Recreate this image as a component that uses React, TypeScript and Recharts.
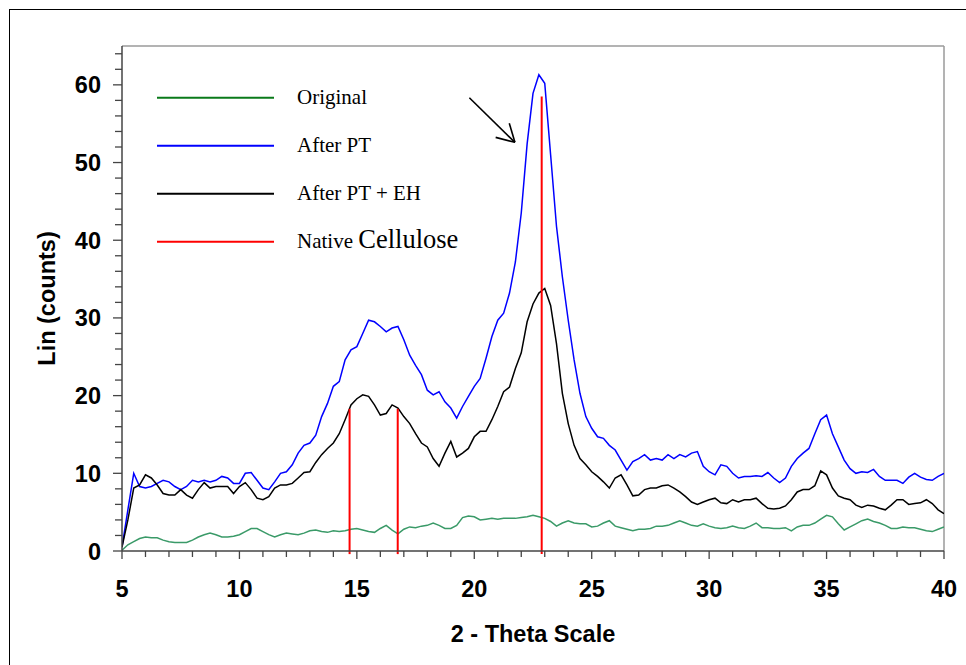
import React from 'react';
import { LineChart, Line, XAxis, YAxis, ReferenceLine, Legend } from 'recharts';

// 2-theta positions (degrees)
const twoTheta = [
  5, 5.25, 5.5, 5.75, 6, 6.25, 6.5, 6.75, 7, 7.25, 7.5, 7.75, 8, 8.25, 8.5, 8.75, 9, 9.25, 9.5, 9.75,
  10, 10.25, 10.5, 10.75, 11, 11.25, 11.5, 11.75, 12, 12.25, 12.5, 12.75, 13, 13.25, 13.5, 13.75, 14, 14.25, 14.5, 14.75,
  15, 15.25, 15.5, 15.75, 16, 16.25, 16.5, 16.75, 17, 17.25, 17.5, 17.75, 18, 18.25, 18.5, 18.75, 19, 19.25, 19.5, 19.75,
  20, 20.25, 20.5, 20.75, 21, 21.25, 21.5, 21.75, 22, 22.25, 22.5, 22.75, 23, 23.25, 23.5, 23.75, 24, 24.25, 24.5, 24.75,
  25, 25.25, 25.5, 25.75, 26, 26.25, 26.5, 26.75, 27, 27.25, 27.5, 27.75, 28, 28.25, 28.5, 28.75, 29, 29.25, 29.5, 29.75,
  30, 30.25, 30.5, 30.75, 31, 31.25, 31.5, 31.75, 32, 32.25, 32.5, 32.75, 33, 33.25, 33.5, 33.75, 34, 34.25, 34.5, 34.75,
  35, 35.25, 35.5, 35.75, 36, 36.25, 36.5, 36.75, 37, 37.25, 37.5, 37.75, 38, 38.25, 38.5, 38.75, 39, 39.25, 39.5, 39.75,
  40,
];

const original = [
  0.1, 0.8, 1.2, 1.6, 1.8, 1.7, 1.7, 1.4, 1.2, 1.1, 1.1, 1.1, 1.4, 1.8, 2.1, 2.3, 2.1, 1.8, 1.8, 1.9,
  2.1, 2.5, 2.9, 2.9, 2.5, 2.1, 1.8, 2.1, 2.3, 2.2, 2.1, 2.3, 2.6, 2.7, 2.5, 2.4, 2.6, 2.5, 2.6, 2.8,
  2.9, 2.7, 2.5, 2.4, 2.9, 3.3, 2.7, 2.2, 2.8, 3.1, 3.0, 3.2, 3.3, 3.6, 3.3, 2.9, 2.9, 3.3, 4.3, 4.5,
  4.4, 4.0, 4.1, 4.2, 4.1, 4.2, 4.2, 4.2, 4.3, 4.4, 4.6, 4.4, 4.2, 3.8, 3.2, 3.6, 3.9, 3.6, 3.5, 3.5,
  3.1, 3.2, 3.6, 3.9, 3.2, 3.0, 2.8, 2.6, 2.8, 2.8, 2.9, 3.2, 3.2, 3.3, 3.6, 3.9, 3.6, 3.3, 3.2, 3.5,
  3.2, 3.0, 2.9, 3.0, 3.2, 3.0, 2.9, 3.2, 3.6, 3.0, 3.0, 2.9, 2.9, 3.0, 2.6, 3.1, 3.3, 3.3, 3.6, 4.1,
  4.6, 4.4, 3.5, 2.7, 3.1, 3.5, 3.9, 4.1, 3.8, 3.6, 3.3, 2.9, 2.9, 3.1, 3.0, 3.0, 2.8, 2.6, 2.5, 2.8,
  3.1,
];

const afterPT = [
  0.5, 5.3, 10.0, 8.3, 8.1, 8.3, 8.7, 9.1, 8.9, 8.3, 7.9, 8.3, 9.1, 8.9, 9.1, 8.9, 9.1, 9.6, 9.4, 8.7,
  8.7, 10.0, 10.1, 9.1, 8.1, 7.9, 8.9, 10.0, 10.2, 11.1, 12.6, 13.6, 13.9, 14.9, 17.3, 19.0, 21.2, 21.8, 24.6, 25.9,
  26.3, 28.0, 29.7, 29.5, 28.9, 28.2, 28.7, 28.9, 27.2, 25.2, 23.9, 22.7, 20.7, 20.1, 20.5, 19.2, 18.4, 17.1, 18.6, 19.9,
  21.2, 22.2, 24.8, 27.6, 29.7, 30.6, 33.2, 37.2, 43.5, 52.4, 58.9, 61.3, 60.2, 51.0, 41.8, 35.3, 29.7, 24.6, 20.3, 17.3,
  15.8, 14.7, 14.5, 13.6, 13.0, 11.7, 10.4, 11.5, 11.9, 12.4, 11.7, 11.9, 11.7, 12.4, 11.9, 12.4, 12.1, 12.6, 12.8, 10.9,
  10.2, 9.8, 11.1, 10.9, 10.0, 9.4, 9.6, 9.6, 9.7, 9.6, 10.1, 9.4, 8.8, 9.4, 10.9, 11.9, 12.6, 13.2, 15.1, 16.9,
  17.5, 15.1, 13.4, 11.7, 10.6, 10.0, 10.2, 10.1, 10.5, 9.6, 9.1, 9.1, 9.1, 8.7, 9.5, 10.0, 9.5, 9.2, 9.1, 9.6,
  10.0,
];

const afterPTEH = [
  0.5, 4.0, 8.1, 8.5, 9.8, 9.4, 8.5, 7.4, 7.2, 7.2, 7.9, 7.2, 6.8, 7.9, 8.8, 8.1, 8.3, 8.3, 8.3, 7.4,
  8.3, 8.8, 7.9, 6.8, 6.6, 7.0, 8.1, 8.5, 8.5, 8.7, 9.4, 10.1, 10.2, 11.4, 12.4, 13.2, 13.9, 15.1, 16.9, 18.8,
  19.6, 20.1, 19.9, 18.8, 17.5, 17.7, 18.8, 18.4, 17.3, 16.4, 15.1, 13.9, 13.4, 11.9, 10.9, 12.6, 14.1, 12.1, 12.6, 13.2,
  14.7, 15.4, 15.4, 16.9, 18.6, 20.5, 21.1, 23.5, 25.5, 29.5, 31.8, 33.2, 33.8, 31.6, 26.7, 20.3, 16.4, 13.6, 11.9, 11.1,
  10.2, 9.6, 8.9, 8.1, 9.4, 9.8, 8.5, 7.1, 7.2, 7.9, 8.1, 8.1, 8.4, 8.5, 8.1, 7.6, 7.0, 6.3, 6.0, 6.3,
  6.6, 6.8, 6.2, 6.1, 6.6, 6.3, 6.6, 6.6, 6.8, 6.1, 5.5, 5.4, 5.5, 5.8, 6.6, 7.6, 7.9, 7.9, 8.4, 10.3,
  9.8, 8.1, 7.1, 6.8, 6.6, 5.9, 5.6, 5.9, 5.8, 5.5, 5.3, 5.9, 6.6, 6.6, 6.0, 6.1, 6.2, 6.6, 6.1, 5.3,
  4.8,
];

// Native cellulose reference peaks
const nativeX = [14.69, 16.74, 22.87];
const nativeTop = [18.3, 18.3, 58.5];
const nativeBottom = -0.4;

// Annotation arrow (data coordinates)
const arrowSegments = [
  [[19.79, 58.34], [21.73, 52.6]],
  [[21.49, 55.05], [21.73, 52.6]],
  [[20.91, 53.24], [21.73, 52.6]],
];

const xTicks = [5, 6, 7, 8, 9, 10, 11, 12, 13, 14, 15, 16, 17, 18, 19, 20, 21, 22, 23, 24, 25, 26, 27, 28, 29, 30, 31, 32, 33, 34, 35, 36, 37, 38, 39, 40];
const yTicks = [0, 2, 4, 6, 8, 10, 12, 14, 16, 18, 20, 22, 24, 26, 28, 30, 32, 34, 36, 38, 40, 42, 44, 46, 48, 50, 52, 54, 56, 58, 60, 62, 64];
const xLabelStep = 5;
const yLabelStep = 10;

const seriesNames = ['Original', 'After PT', 'After PT + EH'];
const seriesKeys = ['original', 'afterPT', 'afterPTEH'];
const seriesColors = ['#3a9a68', '#0000ff', '#000000'];
const legendColors = ['#0a7a1a', '#0000ff', '#000000', '#ff0000'];

const data = twoTheta.map((x, i) => ({
  x,
  original: original[i],
  afterPT: afterPT[i],
  afterPTEH: afterPTEH[i],
}));

const AXIS_FONT = '"Liberation Sans", Arial, sans-serif';
const SERIF = '"Liberation Serif", "Times New Roman", serif';
const AXIS_COLOR = '#444';

const XTick = (props: any) => {
  const { x, y, payload } = props;
  const axisY = y - 8;
  const major = payload.value % xLabelStep === 0;
  return (
    <g>
      <line x1={x} x2={x} y1={axisY} y2={axisY + (major ? 8 : 6)} stroke={AXIS_COLOR} strokeWidth={1.3} />
      {major && (
        <text x={x} y={axisY + 45.5} textAnchor="middle" fontFamily={AXIS_FONT} fontWeight="bold" fontSize={23.5} fill="#000">
          {payload.value}
        </text>
      )}
    </g>
  );
};

const YTick = (props: any) => {
  const { x, y, payload } = props;
  const axisX = x + 8;
  const major = payload.value % yLabelStep === 0;
  return (
    <g>
      <line x1={axisX} x2={axisX - (major ? 9 : 7)} y1={y} y2={y} stroke={AXIS_COLOR} strokeWidth={1.3} />
      {major && (
        <text x={axisX - 21} y={y + 8.5} textAnchor="end" fontFamily={AXIS_FONT} fontWeight="bold" fontSize={23.5} fill="#000">
          {payload.value}
        </text>
      )}
    </g>
  );
};

const XTitle = (props: any) => {
  const vb = props.viewBox;
  return (
    <text x={vb.x + vb.width / 2} y={vb.y + 90.7} textAnchor="middle" fontFamily={AXIS_FONT} fontWeight="bold" fontSize={23.5} fill="#000">
      2 - Theta Scale
    </text>
  );
};

const YTitle = (props: any) => {
  const vb = props.viewBox;
  const cx = vb.x - 7;
  const cy = vb.y + vb.height / 2;
  return (
    <text x={cx} y={cy} transform={`rotate(-90 ${cx} ${cy})`} textAnchor="middle" fontFamily={AXIS_FONT} fontWeight="bold" fontSize={23.5} fill="#000">
      Lin (counts)
    </text>
  );
};

const renderLegend = () => (
  <svg width={340} height={200} style={{ display: 'block', overflow: 'visible' }}>
    {[...seriesNames, 'Native Cellulose'].map((name, i) => (
      <g key={name}>
        <line x1={0} x2={117} y1={17.7 + 48 * i} y2={17.7 + 48 * i} stroke={legendColors[i]} strokeWidth={2} />
        {i < 3 ? (
          <text x={140} y={24 + 48 * i} fontFamily={SERIF} fontSize={21} fill="#000">
            {name}
          </text>
        ) : (
          <text x={140} y={24 + 48 * i} fontFamily={SERIF} fontSize={21} fill="#000">
            <tspan>Native </tspan>
            <tspan fontSize={26.5}>Cellulose</tspan>
          </text>
        )}
      </g>
    ))}
  </svg>
);

export default function App() {
  return (
    <div style={{ position: 'absolute', left: 0, top: 0, width: 966, height: 665, overflow: 'hidden', background: '#fff' }}>
      <div style={{ position: 'absolute', left: 9, top: 9, width: 1000, height: 700, border: '1px solid #000', boxSizing: 'border-box' }} />
      <div style={{ position: 'absolute', left: 0, top: 0 }}>
        <LineChart width={966} height={665} data={data} margin={{ top: 46, right: 22, bottom: 74, left: 62 }}>
          <XAxis
            dataKey="x"
            type="number"
            domain={[5, 40]}
            ticks={xTicks}
            interval={0}
            height={40}
            tickSize={8}
            tickMargin={0}
            tickLine={false}
            tick={<XTick />}
            axisLine={{ stroke: AXIS_COLOR, strokeWidth: 1.5 }}
            label={XTitle}
            allowDataOverflow
          />
          <YAxis
            type="number"
            domain={[0, 65]}
            ticks={yTicks}
            interval={0}
            width={60}
            tickSize={8}
            tickMargin={0}
            tickLine={false}
            tick={<YTick />}
            axisLine={{ stroke: AXIS_COLOR, strokeWidth: 1.5 }}
            label={YTitle}
            allowDataOverflow
          />
          <ReferenceLine y={65} stroke="#9a9a9a" strokeWidth={1.5} />
          <ReferenceLine x={40} stroke="#9a9a9a" strokeWidth={1.5} />
          {seriesKeys.map((k, i) => (
            <Line
              key={k}
              dataKey={k}
              name={seriesNames[i]}
              type="linear"
              stroke={seriesColors[i]}
              strokeWidth={1.5}
              dot={false}
              activeDot={false}
              isAnimationActive={false}
            />
          ))}
          {nativeX.map((x, i) => (
            <ReferenceLine
              key={'n' + i}
              segment={[{ x, y: nativeBottom }, { x, y: nativeTop[i] }]}
              stroke="#ff0000"
              strokeWidth={2}
              ifOverflow="visible"
            />
          ))}
          {arrowSegments.map((s, i) => (
            <ReferenceLine
              key={'a' + i}
              segment={[{ x: s[0][0], y: s[0][1] }, { x: s[1][0], y: s[1][1] }]}
              stroke="#000"
              strokeWidth={1.6}
              ifOverflow="visible"
            />
          ))}
          <Legend
            layout="vertical"
            align="center"
            verticalAlign="middle"
            content={renderLegend}
            wrapperStyle={{ position: 'absolute', left: 157, top: 80, width: 340, height: 200 }}
          />
        </LineChart>
      </div>
    </div>
  );
}
